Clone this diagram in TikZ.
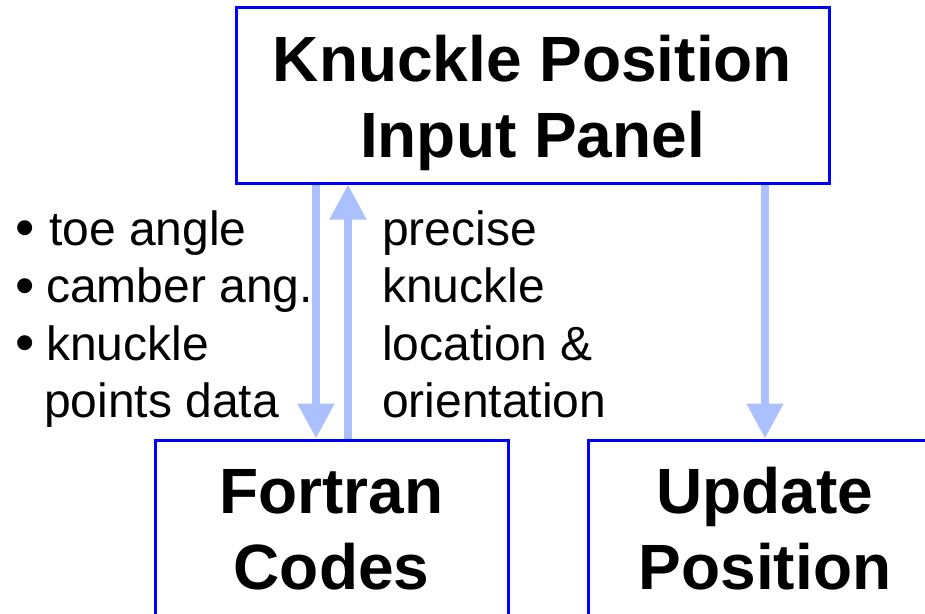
\documentclass[tikz,border=0pt]{standalone}
\usepackage{fontspec}
\setmainfont{Liberation Sans}
\usetikzlibrary{arrows.meta}
\definecolor{boxblue}{RGB}{0,0,255}
\definecolor{flowblue}{RGB}{170,192,255}
\newcommand{\itembullet}[1][31pt]{\makebox[#1][l]{\raisebox{-1.5pt}{\scalebox{1.15}{•}}}}
\begin{document}
\begin{tikzpicture}[x=1pt,y=-1pt,
  panel/.style={draw=boxblue, line width=3pt, inner sep=0pt},
  title/.style={font=\bfseries\fontsize{64}{76}\selectfont, align=center, inner sep=0pt},
  note/.style={font=\fontsize{48}{57.5}\selectfont, align=left, inner sep=0pt},
  flow/.style={draw=flowblue, line width=8pt, -{Triangle[width=35pt,length=35pt]}}]
\useasboundingbox (0,0) rectangle (925,613);

% boxes
\node[panel, minimum width=593pt, minimum height=176pt] (kp) at (532.5,95) {};
\node[panel, minimum width=353pt, minimum height=240pt] (fc) at (331.5,560) {};
\node[panel, minimum width=354pt, minimum height=240pt] (up) at (765,560) {};

% box titles (base = baseline of the last line)
\node[title, anchor=base] (kptext) at (532.5,157) {Knuckle Position\\Input Panel};
\node[title, anchor=base] (fctext) at (331.5,589) {Fortran\\Codes};
\node[title, anchor=base] (uptext) at (765,589) {Update\\Position};

% data passed along the links
\node[note, anchor=base west] (inputs) at (15,417.5)
  {\itembullet[34pt]toe angle\\\itembullet camber ang.\\\itembullet knuckle\\\hspace*{29pt}points data};
\node[note, anchor=base west] (outputs) at (382,417.5)
  {precise\\knuckle\\location \&\\orientation};

% links
\draw[flow] ([xshift=-15.5pt]fc.north |- kp.south) -- ([xshift=-15.5pt]fc.north);
\draw[flow] ([xshift=16.5pt]fc.north) -- ([xshift=16.5pt]fc.north |- kp.south);
\draw[flow] (up.north |- kp.south) -- (up.north);
\end{tikzpicture}
\end{document}
